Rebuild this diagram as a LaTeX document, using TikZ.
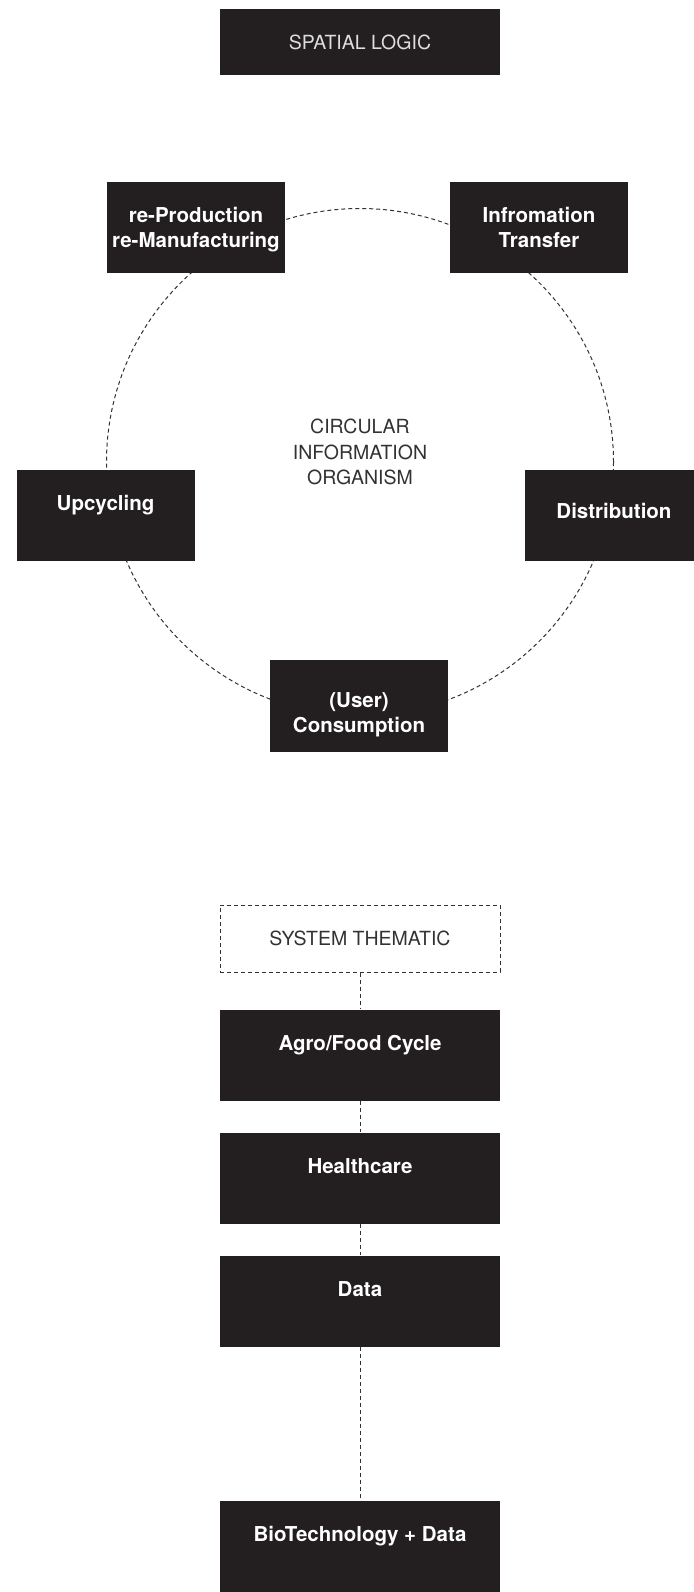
\documentclass[tikz,border=0pt]{standalone}
\usepackage{fontspec}
\setmainfont{TeX Gyre Heros}
\usepackage{tikz}
\definecolor{boxblack}{RGB}{35,31,32}
\definecolor{inkgray}{RGB}{50,50,50}
\definecolor{palegray}{RGB}{222,222,222}

\tikzset{
  darkbox/.style={fill=boxblack, text=white, inner sep=0pt, align=center,
    minimum width=178pt, text height=40.5pt, text depth=50.5pt,
    font=\fontsize{20.5}{25.5}\selectfont\bfseries},
  widebox/.style={darkbox, minimum width=280pt},
  headbox/.style={widebox, text depth=25.5pt, text=palegray,
    font=\fontsize{19.5}{25.5}\selectfont},
  themebox/.style={headbox, fill=none, draw=inkgray, text=inkgray,
    text depth=26.5pt, line width=1pt, dash pattern=on 4pt off 3pt},
  link/.style={draw=inkgray, line width=1pt, dash pattern=on 4pt off 3pt}
}

\begin{document}
\begin{tikzpicture}[x=1pt, y=-1pt]

% Page
\useasboundingbox (0,0) rectangle (693,1592);

% Cercle
\coordinate (ring) at (360,462);
\draw[link] (ring) circle[radius=253.5];
\node[align=center, text=inkgray, font=\fontsize{19.5}{25.5}\selectfont]
  (organism) at (360,452) {CIRCULAR\\INFORMATION\\ORGANISM};

% Titre
\node[headbox] (spatial) at (360,42) {SPATIAL LOGIC};

% Boites du cycle
\node[darkbox, text height=65.5pt, text depth=25.5pt] (reprod) at (196,227.5)
  {re-Production\\re-Manufacturing};
\node[darkbox, text height=65.5pt, text depth=25.5pt] (infotrans) at (539,227.5)
  {Infromation\\Transfer};
\node[darkbox, text height=40pt, text depth=51pt] (upcycle) at (105.5,515.5) {Upcycling};
\node[darkbox, text height=48pt, text depth=43pt] (distrib) at (614,515.5) {Distribution};
\node[darkbox, text height=73pt, text depth=19pt] (consum) at (359,705.5)
  {(User)\\Consumption};

% Colonne thematique
\node[themebox] (thematic) at (360,938.5) {SYSTEM THEMATIC};
\node[widebox] (agro)    at (360,1055) {Agro/Food Cycle};
\node[widebox] (health)  at (360,1178) {Healthcare};
\node[widebox] (data)    at (360,1301) {Data};
\node[widebox] (biotech) at (360,1546) {BioTechnology + Data};

% Liens
\draw[link] (thematic) -- (agro);
\draw[link] (agro) -- (health);
\draw[link] (health) -- (data);
\draw[link] (data) -- (biotech);

\end{tikzpicture}
\end{document}
